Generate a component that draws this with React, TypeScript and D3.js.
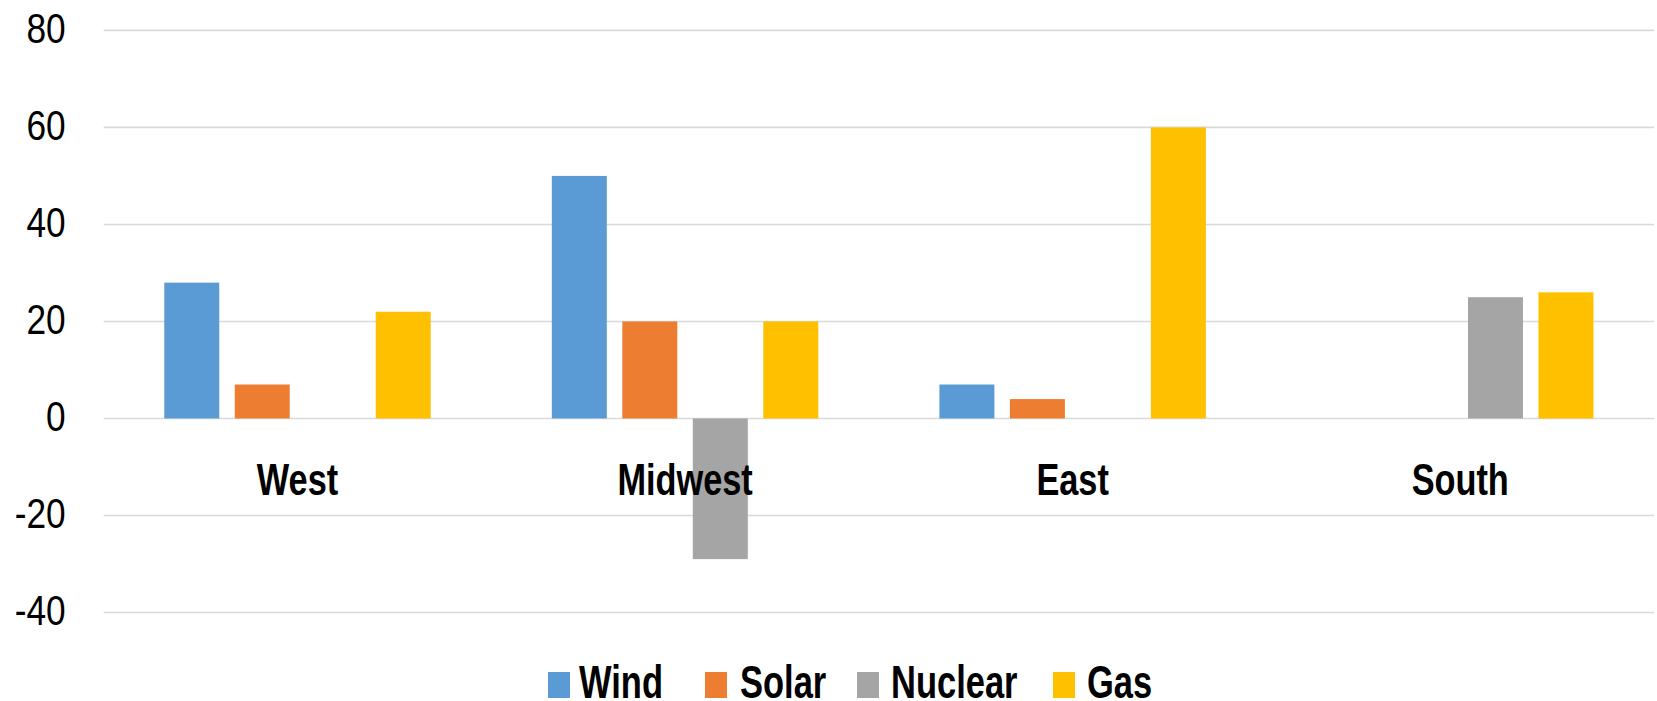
import React from "react";
import * as d3 from "d3";

const categories = ["West", "Midwest", "East", "South"];
const seriesNames = ["Wind", "Solar", "Nuclear", "Gas"];
const wind: (number | null)[] = [28, 50, 7, null];
const solar: (number | null)[] = [7, 20, 4, null];
const nuclear: (number | null)[] = [null, -29, null, 25];
const gas: (number | null)[] = [22, 20, 60, 26];
const yTicks = [80, 60, 40, 20, 0, -20, -40];
const colors = ["#5B9BD5", "#ED7D31", "#A5A5A5", "#FFC000"];

const seriesValues = [wind, solar, nuclear, gas];

const W = 1657;
const H = 701;
const plotLeft = 103.7;
const plotRight = 1654;

export default function App() {
  const x0 = d3.scaleBand<string>().domain(categories).range([plotLeft, plotRight]).padding(0);
  const x1 = d3
    .scaleBand<string>()
    .domain(seriesNames)
    .range([0, x0.bandwidth()])
    .paddingInner(0.22)
    .paddingOuter(0.859);
  const y = d3.scaleLinear().domain([-40, 80]).range([612.5, 30.4]);

  const font = "'Liberation Sans', Arial, sans-serif";

  // legend layout: swatch left edge and text left edge for each entry
  const legendSwatchX = [548, 705, 857, 1053];
  const legendTextX = [579, 740, 891, 1087];

  return (
    <svg
      width={W}
      height={H}
      style={{ position: "absolute", left: 0, top: 0, background: "#fff" }}
    >
      <rect x={0} y={0} width={W} height={H} fill="#fff" />
      {yTicks.map((t) => (
        <line
          key={"g" + t}
          x1={plotLeft}
          x2={plotRight}
          y1={y(t)}
          y2={y(t)}
          stroke="#D9D9D9"
          strokeWidth={1.6}
        />
      ))}
      {yTicks.map((t) => (
        <text
          key={"t" + t}
          transform={`translate(65.7,${y(t) + 12.5}) scale(0.82,1)`}
          textAnchor="end"
          fontFamily={font}
          fontSize={43}
          fill="#000"
        >
          {t}
        </text>
      ))}
      {categories.map((c, ci) => (
        <g key={c} transform={`translate(${x0(c)},0)`}>
          {seriesNames.map((s, si) => {
            const v = seriesValues[si][ci];
            if (v === null || v === undefined) return null;
            const top = y(Math.max(0, v));
            const bottom = y(Math.min(0, v));
            return (
              <rect
                key={s}
                x={x1(s)}
                y={top}
                width={x1.bandwidth()}
                height={bottom - top}
                fill={colors[si]}
              />
            );
          })}
        </g>
      ))}
      {categories.map((c) => (
        <text
          key={"c" + c}
          transform={`translate(${(x0(c) as number) + x0.bandwidth() / 2},495) scale(0.78,1)`}
          textAnchor="middle"
          fontFamily={font}
          fontWeight="bold"
          fontSize={44}
          fill="#000"
        >
          {c}
        </text>
      ))}
      {seriesNames.map((s, si) => (
        <g key={"l" + s}>
          <rect x={legendSwatchX[si]} y={672} width={22} height={26} fill={colors[si]} />
          <text
            transform={`translate(${legendTextX[si]},698) scale(0.75,1)`}
            fontFamily={font}
            fontWeight="bold"
            fontSize={46}
            fill="#000"
          >
            {s}
          </text>
        </g>
      ))}
    </svg>
  );
}
